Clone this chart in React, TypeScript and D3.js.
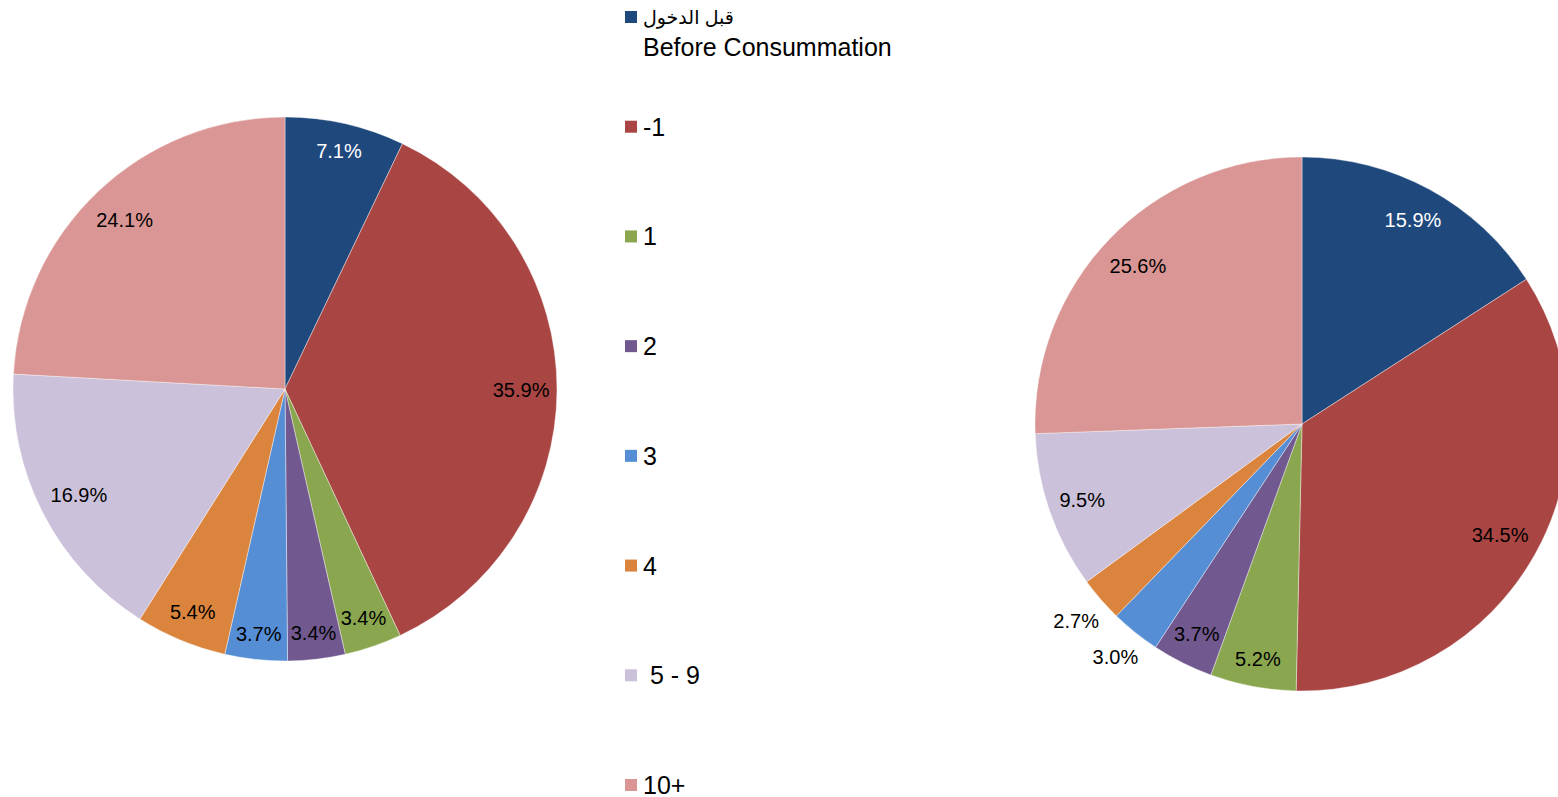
import React from "react";
import * as d3 from "d3";

const categories = ["قبل الدخول", "-1", "1", "2", "3", "4", " 5 - 9", "10+"];
const firstSubLabel = "Before Consummation";
const leftValues = [7.1, 35.9, 3.4, 3.4, 3.7, 5.4, 16.9, 24.1];
const rightValues = [15.9, 34.5, 5.2, 3.7, 3.0, 2.7, 9.5, 25.6];
const colors = ["#1F497D", "#A94543", "#8AA64F", "#71588F", "#558ED5", "#DB843D", "#CCC1DA", "#D99694"];
const labelColors = ["#FFFFFF", "#000", "#000", "#000", "#000", "#000", "#000", "#000"];

const W = 1558;
const H = 797;
const FONT = "'Liberation Sans', Arial, 'DejaVu Sans', sans-serif";
const LABEL_SIZE = 20;
const LEGEND_SIZE = 25;

function textWidth(t: string, size: number) {
  let w = 0;
  for (const ch of t) {
    if (ch === ".") w += 0.278;
    else if (ch === "%") w += 0.889;
    else w += 0.556;
  }
  return w * size;
}

function Pie({ values, cx, cy, r }: { values: number[]; cx: number; cy: number; r: number }) {
  const pie = d3.pie<number>().sort(null).value((d) => d).startAngle(0).endAngle(2 * Math.PI);
  const arcs = pie(values);
  const arc = d3.arc<d3.PieArcDatum<number>>().innerRadius(0).outerRadius(r);
  return (
    <g transform={`translate(${cx},${cy})`}>
      {arcs.map((a, i) => (
        <path key={i} d={arc(a) || ""} fill={colors[i]} stroke="#ffffff" strokeWidth={0.4} />
      ))}
      {arcs.map((a, i) => {
        const text = `${a.data.toFixed(1)}%`;
        const w = textWidth(text, LABEL_SIZE);
        const mid = (a.startAngle + a.endAngle) / 2;
        const s = Math.sin(mid);
        const c = -Math.cos(mid);
        const arcLen = (a.endAngle - a.startAngle) * r * 0.85;
        const outside = arcLen < w + 2;
        const ext = outside
          ? Math.abs(s) * w / 2 + Math.abs(c) * 16
          : Math.abs(s) * w / 2 + Math.abs(c) * 16;
        const dist = outside ? r + 5 + ext : r - 7.5 - ext;
        return (
          <text
            key={"l" + i}
            x={s * dist}
            y={c * dist}
            textAnchor="middle"
            dominantBaseline="central"
            fontFamily={FONT}
            fontSize={LABEL_SIZE}
            fill={outside ? "#000" : labelColors[i]}
          >
            {text}
          </text>
        );
      })}
    </g>
  );
}

export default function App() {
  const legendY = d3.scaleLinear().domain([0, categories.length - 1]).range([17, 785]);
  return (
    <svg
      width={W}
      height={H}
      style={{ position: "absolute", left: 0, top: 0, background: "#fff" }}
    >
      <rect width={W} height={H} fill="#fff" />
      <Pie values={leftValues} cx={285} cy={389} r={272} />
      <Pie values={rightValues} cx={1302} cy={424} r={267} />
      <g fontFamily={FONT} fontSize={LEGEND_SIZE}>
        {categories.map((c, i) => (
          <g key={i} transform={`translate(0,${legendY(i)})`}>
            <rect x={625} y={-6} width={12} height={12} fill={colors[i]} />
            <text
              x={643}
              y={0}
              dominantBaseline="central"
              fill="#000"
              fontSize={i === 0 ? 19 : LEGEND_SIZE}
              style={{ whiteSpace: "pre" }}
            >
              {c}
            </text>
            {i === 0 && (
              <text x={643} y={30} dominantBaseline="central" fill="#000">
                {firstSubLabel}
              </text>
            )}
          </g>
        ))}
      </g>
    </svg>
  );
}
